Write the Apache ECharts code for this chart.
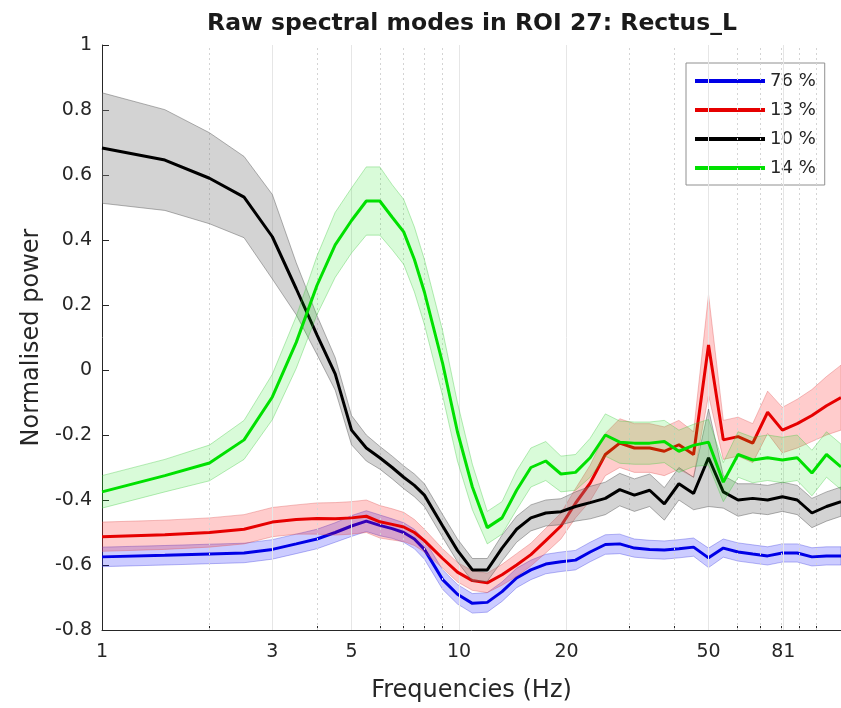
<!DOCTYPE html>
<html><head><meta charset="utf-8">
<script src="https://cdn.jsdelivr.net/npm/echarts@6/dist/echarts.min.js"></script>
<style>html,body{margin:0;padding:0;background:#fff}#c{width:841px;height:708px}</style>
</head><body><div id="c"></div>
<script>
const TITLE = 'Raw spectral modes in ROI 27: Rectus_L';
const X_NAME = 'Frequencies (Hz)';
const Y_NAME = 'Normalised power';
const MODE_LABELS = ['76 %', '13 %', '10 %', '14 %'];

const FREQ = [1,1.5,2,2.5,3,3.5,4,4.5,5,5.5,6,6.5,7,7.5,8,9,9.9,10.9,12,13.2,14.5,15.9,17.5,19.3,21.2,23.3,25.7,28.2,31,34.2,37.6,41.3,45.4,50,55,60.5,66.5,73.2,80.5,88.6,97.4,107,117.5];

const BLUE_MEAN = [-0.575,-0.57,-0.566,-0.563,-0.552,-0.535,-0.52,-0.5,-0.48,-0.465,
 -0.478,-0.488,-0.5,-0.52,-0.552,-0.645,-0.69,-0.718,-0.715,-0.682,
 -0.64,-0.615,-0.597,-0.59,-0.585,-0.56,-0.537,-0.535,-0.548,-0.552,
 -0.554,-0.55,-0.545,-0.578,-0.548,-0.56,-0.566,-0.572,-0.563,-0.563,
 -0.575,-0.572,-0.572];
const BLUE_ERR = [0.03,0.03,0.03,0.03,0.03,0.03,0.03,0.03,0.032,0.032,
 0.032,0.03,0.03,0.03,0.03,0.03,0.03,0.03,0.03,0.03,
 0.03,0.03,0.03,0.03,0.03,0.03,0.03,0.03,0.028,0.028,
 0.028,0.028,0.028,0.03,0.028,0.028,0.028,0.028,0.028,0.028,
 0.028,0.028,0.028];

const RED_MEAN = [-0.513,-0.507,-0.5,-0.49,-0.468,-0.46,-0.457,-0.458,-0.455,-0.45,
 -0.467,-0.475,-0.483,-0.5,-0.525,-0.58,-0.622,-0.648,-0.655,-0.63,
 -0.6,-0.568,-0.525,-0.48,-0.41,-0.348,-0.26,-0.225,-0.24,-0.24,
 -0.25,-0.23,-0.26,0.077,-0.215,-0.205,-0.225,-0.13,-0.185,-0.165,
 -0.14,-0.11,-0.085];
const RED_ERR = [0.045,0.045,0.045,0.045,0.045,0.045,0.048,0.05,0.05,0.05,
 0.05,0.048,0.045,0.04,0.035,0.03,0.03,0.03,0.03,0.032,
 0.035,0.035,0.038,0.04,0.045,0.055,0.065,0.075,0.075,0.075,
 0.075,0.075,0.07,0.155,0.06,0.06,0.06,0.065,0.07,0.075,
 0.08,0.09,0.1];

const BLACK_MEAN = [0.683,0.646,0.59,0.532,0.41,0.25,0.108,-0.012,-0.185,-0.24,
 -0.27,-0.3,-0.33,-0.355,-0.385,-0.48,-0.555,-0.615,-0.615,-0.548,
 -0.49,-0.455,-0.44,-0.436,-0.42,-0.408,-0.395,-0.368,-0.385,-0.37,
 -0.412,-0.35,-0.38,-0.27,-0.375,-0.4,-0.395,-0.4,-0.39,-0.4,
 -0.44,-0.42,-0.405];
const BLACK_ERR = [0.17,0.155,0.14,0.125,0.13,0.08,0.06,0.05,0.045,0.04,
 0.035,0.035,0.035,0.035,0.035,0.035,0.035,0.035,0.035,0.04,
 0.04,0.04,0.04,0.04,0.045,0.05,0.05,0.05,0.05,0.05,
 0.05,0.05,0.05,0.15,0.05,0.05,0.045,0.045,0.045,0.045,
 0.045,0.045,0.045];

const GREEN_MEAN = [-0.375,-0.325,-0.286,-0.215,-0.083,0.085,0.26,0.385,0.46,0.52,
 0.52,0.47,0.425,0.34,0.24,0.02,-0.19,-0.36,-0.485,-0.455,
 -0.37,-0.3,-0.28,-0.32,-0.315,-0.27,-0.2,-0.222,-0.225,-0.225,
 -0.22,-0.25,-0.232,-0.222,-0.345,-0.26,-0.277,-0.27,-0.277,-0.27,
 -0.317,-0.26,-0.298];
const GREEN_ERR = [0.05,0.05,0.055,0.06,0.07,0.08,0.09,0.1,0.1,0.105,
 0.105,0.1,0.1,0.1,0.1,0.1,0.09,0.07,0.05,0.05,
 0.06,0.06,0.06,0.055,0.055,0.06,0.065,0.065,0.065,0.065,
 0.065,0.065,0.065,0.07,0.06,0.07,0.07,0.07,0.07,0.07,
 0.07,0.07,0.07];

const X_TICKS = [1,3,5,10,20,50,81];
const X_MINOR = [2,4,6,7,8,9,30,40,60,70,80,90,100];
const X_MAJOR_GRID = [3,5,10,20,50,81];

const FONT = 'DejaVu Sans';
const INK = '#262626';

function band(mean, err, fill, stroke, z) {
  const up = mean.map((m, i) => m + err[i]);
  const lo = mean.map((m, i) => m - err[i]);
  return {
    type: 'custom', coordinateSystem: 'cartesian2d', z: z, silent: true, clip: true,
    data: FREQ.map((f, i) => [f, lo[i], up[i]]),
    encode: { x: 0, y: [1, 2] },
    renderItem: function (params, api) {
      if (params.dataIndex !== 0) return null;
      const pts = [];
      for (let i = 0; i < FREQ.length; i++) pts.push(api.coord([FREQ[i], up[i]]));
      for (let i = FREQ.length - 1; i >= 0; i--) pts.push(api.coord([FREQ[i], lo[i]]));
      return { type: 'polygon', shape: { points: pts }, style: { fill: fill, stroke: stroke, lineWidth: 0.8 } };
    }
  };
}
function line(name, mean, color, z) {
  return {
    type: 'line', name: name, z: z, silent: true, symbol: 'none',
    data: FREQ.map((f, i) => [f, mean[i]]),
    lineStyle: { width: 3, color: color }, itemStyle: { color: color }
  };
}

const chart = echarts.init(document.getElementById('c'), null, { renderer: 'canvas' });
chart.setOption({
  animation: false,
  backgroundColor: '#ffffff',
  textStyle: { fontFamily: FONT },
  title: {
    text: TITLE, left: 472, top: 12, textAlign: 'center', padding: 0,
    textStyle: { fontFamily: FONT, fontSize: 23.5, fontWeight: 'bold', color: '#1a1a1a' }
  },
  legend: {
    data: MODE_LABELS, orient: 'vertical', left: 686, top: 63,
    padding: [9, 9, 8, 7], itemWidth: 70, itemHeight: 14, itemGap: 11, itemTextGap: 5,
    itemStyle: { opacity: 0 },
    lineStyle: { width: 4 },
    backgroundColor: '#ffffff', borderColor: '#909090', borderWidth: 1, borderRadius: 0,
    textStyle: { fontFamily: FONT, fontSize: 18, color: INK, lineHeight: 18 }
  },
  grid: { left: 102, top: 45, right: 0, bottom: 78, containLabel: false, outerBoundsMode: 'none' },
  xAxis: [{
    type: 'log', logBase: 10, min: 1, max: 117.5, position: 'bottom',
    axisLine: { show: true, onZero: false, lineStyle: { color: INK, width: 1 } },
    axisTick: { show: true, inside: true, length: 7, customValues: X_TICKS, lineStyle: { color: INK } },
    axisLabel: { customValues: X_TICKS, fontSize: 19, color: INK, margin: 13, fontFamily: FONT },
    splitLine: { show: false }, minorTick: { show: false },
    name: X_NAME, nameLocation: 'middle', nameGap: 49,
    nameTextStyle: { fontSize: 24, color: INK, fontFamily: FONT }
  }, {
    type: 'log', logBase: 10, min: 1, max: 117.5, position: 'bottom', offset: 0,
    axisLine: { show: false, onZero: false },
    axisTick: { show: true, inside: true, length: 4, customValues: X_MINOR, lineStyle: { color: INK } },
    axisLabel: { show: false }, splitLine: { show: false }
  }],
  yAxis: {
    type: 'value', min: -0.8, max: 1, interval: 0.2,
    axisLine: { show: true, onZero: false, lineStyle: { color: INK, width: 1 } },
    axisTick: { show: true, inside: true, length: 7, lineStyle: { color: INK } },
    axisLabel: { fontSize: 19, color: INK, margin: 10, fontFamily: FONT,
      formatter: v => String(Math.round(v * 10) / 10) },
    splitLine: { show: false },
    name: Y_NAME, nameLocation: 'middle', nameGap: 56,
    nameTextStyle: { fontSize: 24, color: INK, fontFamily: FONT }
  },
  series: [
    {
      type: 'line', data: [], z: 0, silent: true,
      markLine: {
        silent: true, symbol: ['none', 'none'], label: { show: false }, animation: false,
        data: X_MAJOR_GRID.map(v => ({ xAxis: v, lineStyle: { type: 'solid', color: '#e6e6e6', width: 1 } }))
          .concat(X_MINOR.map(v => ({ xAxis: v, lineStyle: { type: [2, 3], color: '#d4d4d4', width: 1 } })))
      }
    },
    band(BLUE_MEAN, BLUE_ERR, 'rgba(0,0,255,0.2)', 'rgba(60,60,220,0.45)', 2),
    line(MODE_LABELS[0], BLUE_MEAN, '#0000e6', 3),
    band(RED_MEAN, RED_ERR, 'rgba(255,0,0,0.2)', 'rgba(220,80,80,0.45)', 4),
    line(MODE_LABELS[1], RED_MEAN, '#e60000', 5),
    band(BLACK_MEAN, BLACK_ERR, 'rgba(128,128,128,0.35)', 'rgba(80,80,80,0.55)', 6),
    line(MODE_LABELS[2], BLACK_MEAN, '#000000', 7),
    band(GREEN_MEAN, GREEN_ERR, 'rgba(0,230,0,0.15)', 'rgba(60,200,60,0.45)', 8),
    line(MODE_LABELS[3], GREEN_MEAN, '#00e000', 9)
  ]
});
</script>
</body></html>
